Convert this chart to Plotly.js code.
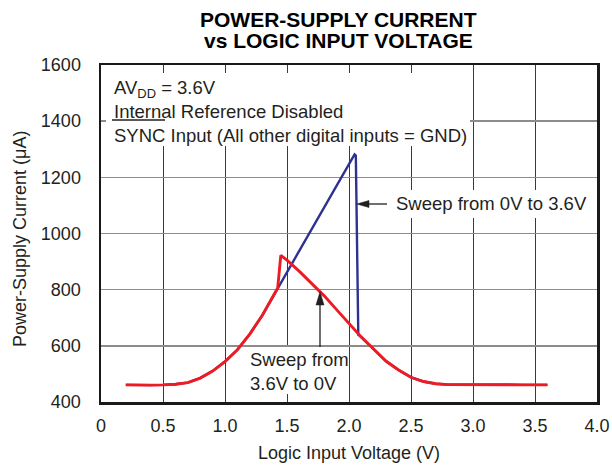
<!DOCTYPE html>
<html>
<head>
<meta charset="utf-8">
<script src="https://cdn.plot.ly/plotly-3.0.1.min.js"></script>
<style>html,body{margin:0;padding:0;background:#fff;}#chart{width:612px;height:468px;}</style>
</head>
<body>
<div id="chart"></div>
<script>
// ---- data ----
const downV = [0.20,0.30,0.40,0.50,0.60,0.70,0.80,0.90,1.00,1.10,1.20,1.30,1.40,1.425,1.45,1.50,1.60,1.70,1.80,1.90,2.00,2.10,2.20,2.30,2.40,2.50,2.60,2.70,2.80,3.00,3.20,3.40,3.60];
const downI = [461,460,460,461,463,469,485,510,544,586,642,708,785,806,922,905,865,823,778,729,680,631,588,545,514,488,473,465,462,461,460,461,461];

const upV = [0.20,0.30,0.40,0.50,0.60,0.70,0.80,0.90,1.00,1.10,1.20,1.30,1.40,1.425,1.50,1.60,1.70,1.80,1.90,2.00,2.045,2.055,2.075,2.10,2.20,2.30,2.40,2.50,2.60,2.70,2.80,3.00,3.20,3.40,3.60];
const upI = [461,460,460,461,463,469,485,510,544,586,642,708,785,806,864,940,1017,1094,1171,1247,1282,1278,639,631,588,545,514,488,473,465,462,461,460,461,461];

const xTickVals = [0,0.5,1.0,1.5,2.0,2.5,3.0,3.5,4.0];
const xTickText = ['0','0.5','1.0','1.5','2.0','2.5','3.0','3.5','4.0'];
const yTickVals = [400,600,800,1000,1200,1400,1600];

const titleLine1 = 'POWER-SUPPLY CURRENT';
const titleLine2 = 'vs LOGIC INPUT VOLTAGE';
const xTitle = 'Logic Input Voltage (V)';
const yTitle = 'Power-Supply Current (μA)';
const noteText = 'AV<sub>DD</sub> = 3.6V<br>Internal Reference Disabled<br>SYNC Input (All other digital inputs = GND)';
const upLabel = 'Sweep from 0V to 3.6V';
const downLabel = 'Sweep from<br>3.6V to 0V';

// ---- layout geometry (pixels -> paper) ----
const M = {l:101, r:15, t:65, b:66};
const W = 612 - M.l - M.r, H = 468 - M.t - M.b;
const px = x => (x - M.l) / W;
const py = y => (468 - M.b - y) / H;

const FONT = 'Liberation Sans, Arial, Helvetica, sans-serif';
const TXT = '#231f20';

const traces = [
  {x: upV, y: upI, type: 'scatter', mode: 'lines', name: 'up',
   line: {color: '#2e3192', width: 2.4}, hoverinfo: 'skip'},
  {x: downV, y: downI, type: 'scatter', mode: 'lines', name: 'down',
   line: {color: '#ed1c24', width: 2.9}, hoverinfo: 'skip'}
];

const whiteRect = (x0,y0,x1,y1) => ({type:'rect', xref:'paper', yref:'paper', layer:'above',
  x0:px(x0), x1:px(x1), y0:py(y1), y1:py(y0), fillcolor:'#ffffff', line:{width:0}});
const hLine = (x0,x1,y,w) => ({type:'line', xref:'paper', yref:'paper', layer:'above',
  x0:px(x0), x1:px(x1), y0:py(y), y1:py(y), line:{color:TXT, width:w}});
const vLine = (x,y0,y1,w) => ({type:'line', xref:'paper', yref:'paper', layer:'above',
  x0:px(x), x1:px(x), y0:py(y0), y1:py(y1), line:{color:TXT, width:w}});
const tri = pts => ({type:'path', xref:'paper', yref:'paper', layer:'above',
  path: 'M' + pts.map(p => px(p[0]) + ',' + py(p[1])).join('L') + 'Z',
  fillcolor:TXT, line:{color:TXT, width:0.5}});

const layout = {
  width: 612, height: 468,
  margin: M,
  paper_bgcolor: '#ffffff', plot_bgcolor: '#ffffff',
  showlegend: false,
  font: {family: FONT, size: 18, color: TXT},
  xaxis: {
    range: [0, 4], tickvals: xTickVals, ticktext: xTickText,
    showgrid: true, gridcolor: '#3a3a3a', gridwidth: 1,
    zeroline: false, showline: true, mirror: true, linecolor: '#1a1a1a', linewidth: 2.5,
    ticks: '', ticklabelstandoff: 6,
    tickfont: {family: FONT, size: 18, color: TXT},
    title: {text: xTitle, font: {family: FONT, size: 18, color: TXT}, standoff: 12}
  },
  yaxis: {
    range: [400, 1600], tickvals: yTickVals,
    showgrid: true, gridcolor: '#8c8c8c', gridwidth: 1.5,
    zeroline: false, showline: true, mirror: true, linecolor: '#1a1a1a', linewidth: 2.5,
    ticks: '', ticklabelstandoff: 14,
    tickfont: {family: FONT, size: 18, color: TXT}
  },
  shapes: [
    whiteRect(106, 73, 470, 146),
    whiteRect(388, 190, 590, 218),
    whiteRect(245, 347, 347, 394),
    hLine(112, 165, 120, 1.3),
    // arrow for "Sweep from 0V to 3.6V"
    hLine(366, 387, 204, 1.3),
    tri([[356.7,204],[369,200.5],[369,207.5]]),
    // arrow for "Sweep from 3.6V to 0V"
    vLine(320, 303, 347, 1.3),
    tri([[320,291.7],[316,305],[324,305]])
  ],
  annotations: [
    {text: '<b>' + titleLine1 + '</b>', xref:'paper', yref:'paper', x:px(338.5), y:py(19.2),
     xanchor:'center', yanchor:'middle', showarrow:false, font:{family:FONT, size:21, color:'#000'}},
    {text: '<b>' + titleLine2 + '</b>', xref:'paper', yref:'paper', x:px(338.5), y:py(40.5),
     xanchor:'center', yanchor:'middle', showarrow:false, font:{family:FONT, size:21, color:'#000'}},
    {text: yTitle, xref:'paper', yref:'paper', x:px(20), y:py(239), textangle:-90,
     xanchor:'center', yanchor:'middle', showarrow:false, font:{family:FONT, size:18, color:TXT}},
    {text: noteText, xref:'paper', yref:'paper', x:px(112), y:py(111),
     xanchor:'left', yanchor:'middle', align:'left', showarrow:false, font:{family:FONT, size:18.5, color:TXT}},
    {text: upLabel, xref:'paper', yref:'paper', x:px(394), y:py(203),
     xanchor:'left', yanchor:'middle', align:'left', showarrow:false, font:{family:FONT, size:18.5, color:TXT}},
    {text: downLabel, xref:'paper', yref:'paper', x:px(248), y:py(371.7),
     xanchor:'left', yanchor:'middle', align:'left', showarrow:false, font:{family:FONT, size:18.5, color:TXT}}
  ]
};

Plotly.newPlot('chart', traces, layout, {staticPlot: true, displayModeBar: false});
</script>
</body>
</html>
